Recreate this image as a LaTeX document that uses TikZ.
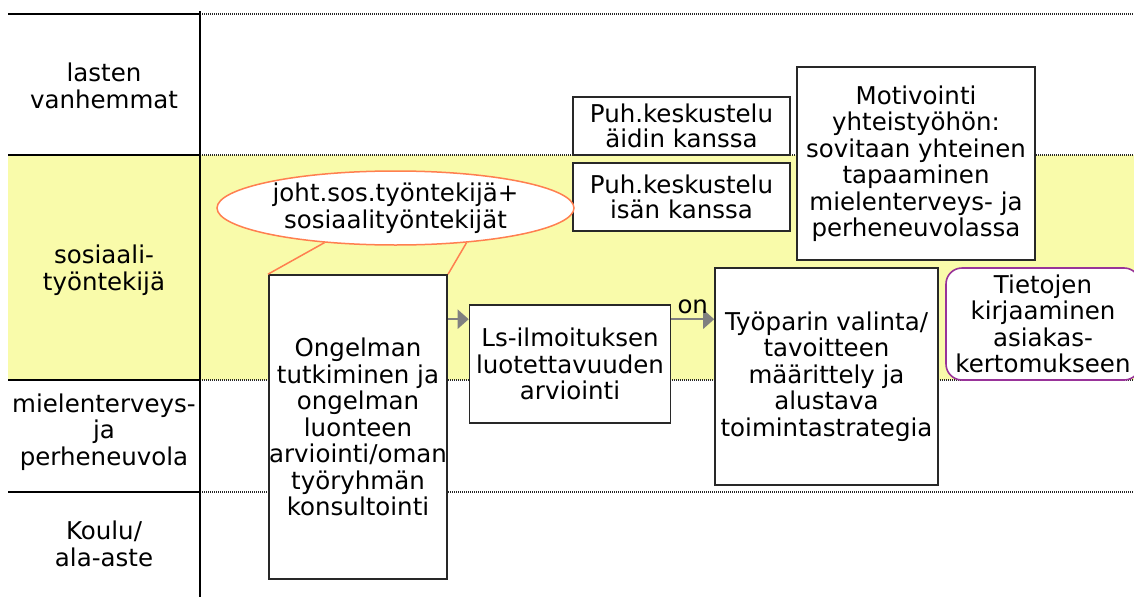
\documentclass[tikz,border=0pt]{standalone}
\usepackage{fontspec}
\setmainfont{DejaVu Sans}
\usetikzlibrary{arrows.meta,shapes.geometric,calc}
\definecolor{laneyellow}{RGB}{249,251,170}
\definecolor{calloutorange}{RGB}{255,127,80}
\definecolor{notepurple}{RGB}{153,51,153}
\definecolor{boxline}{RGB}{40,40,40}
\definecolor{arrowgray}{RGB}{128,128,128}
\tikzset{
  txt/.style={font=\fontsize{24.5pt}{26.5pt}\selectfont, align=center},
  lanelabel/.style={txt, inner sep=0pt},
  stepbox/.style={txt, draw=boxline, line width=1.6pt, fill=white, inner sep=0pt},
  notebox/.style={txt, draw=notepurple, line width=1.6pt, fill=white, rounded corners=16pt, inner sep=0pt},
  callout/.style={txt, ellipse, draw=calloutorange, line width=1.5pt, fill=white, inner sep=0pt},
  calloutline/.style={draw=calloutorange, line width=1.5pt},
  laneline/.style={draw=black, line width=1.6pt},
  lanedot/.style={draw=black!85, line width=1.1pt, dash pattern=on 1pt off 1pt},
  flowarrow/.style={draw=arrowgray, line width=2.2pt, -{Triangle[length=11pt,width=19pt]}}
}
\begin{document}
\begin{tikzpicture}[x=1pt,y=-1pt]
\useasboundingbox (0,0) rectangle (1134,597);
% yellow lane
\fill[laneyellow] (8,155) rectangle (1134,380);
% lane lines
\foreach \yy in {14,155,380,492}{
  \draw[laneline] (8,\yy) -- (200,\yy);
  \draw[lanedot] (200,\yy) -- (1134,\yy);
}
\draw[laneline] (200,11) -- (200,597);
% lane labels
\node[lanelabel] (l1) at (104,86) {lasten\\vanhemmat};
\node[lanelabel] (l2) at (104,270) {sosiaali-\\työntekijä};
\node[lanelabel] (l3) at (104,432) {mielenterveys-\\ja\\perheneuvola};
\node[lanelabel] (l4) at (104,544) {Koulu/\\ala-aste};
% boxes
\node[stepbox, minimum width=178.5pt, minimum height=304pt] (ong) at (358,427)
  {Ongelman\\tutkiminen ja\\ongelman\\luonteen\\arviointi/oman\\työryhmän\\konsultointi};
\node[stepbox, minimum width=201pt, minimum height=118pt] (ls) at (570,364)
  {Ls-ilmoituksen\\luotettavuuden\\arviointi};
\node[stepbox, minimum width=223pt, minimum height=217pt] (tyo) at (826.5,376.5)
  {Työparin valinta/\\tavoitteen\\määrittely ja\\alustava\\toimintastrategia};
\node[stepbox, minimum width=238pt, minimum height=193pt] (mot) at (916,163.5)
  {Motivointi\\yhteistyöhön:\\sovitaan yhteinen\\tapaaminen\\mielenterveys- ja\\perheneuvolassa};
\node[stepbox, font=\fontsize{24.5pt}{25pt}\selectfont, minimum width=217pt, minimum height=58pt] (puh1) at (681.5,126)
  {Puh.keskustelu\\äidin kanssa};
\node[stepbox, font=\fontsize{24.5pt}{25pt}\selectfont, minimum width=217pt, minimum height=68pt] (puh2) at (681.5,197)
  {Puh.keskustelu\\isän kanssa};
\node[notebox, minimum width=194pt, minimum height=112pt] (tie) at (1043,324)
  {Tietojen\\kirjaaminen\\asiakas-\\kertomukseen};
% callout
\node[callout, minimum width=357pt, minimum height=74pt] (ell) at (395.5,208)
  {joht.sos.työntekijä+\\sosiaalityöntekijät};
\draw[calloutline] (ell.206) -- (ong.north west);
\draw[calloutline] (ell.334) -- (ong.north east);
% arrows
\coordinate (a1) at ([yshift=-45pt]ong.north east);
\draw[flowarrow] (a1) -- (a1 -| ls.west);
\draw[flowarrow] (a1 -| ls.east) -- (a1 -| tyo.west)
  node[midway, above, txt, inner sep=4pt] (onlbl) {on};
\end{tikzpicture}
\end{document}
